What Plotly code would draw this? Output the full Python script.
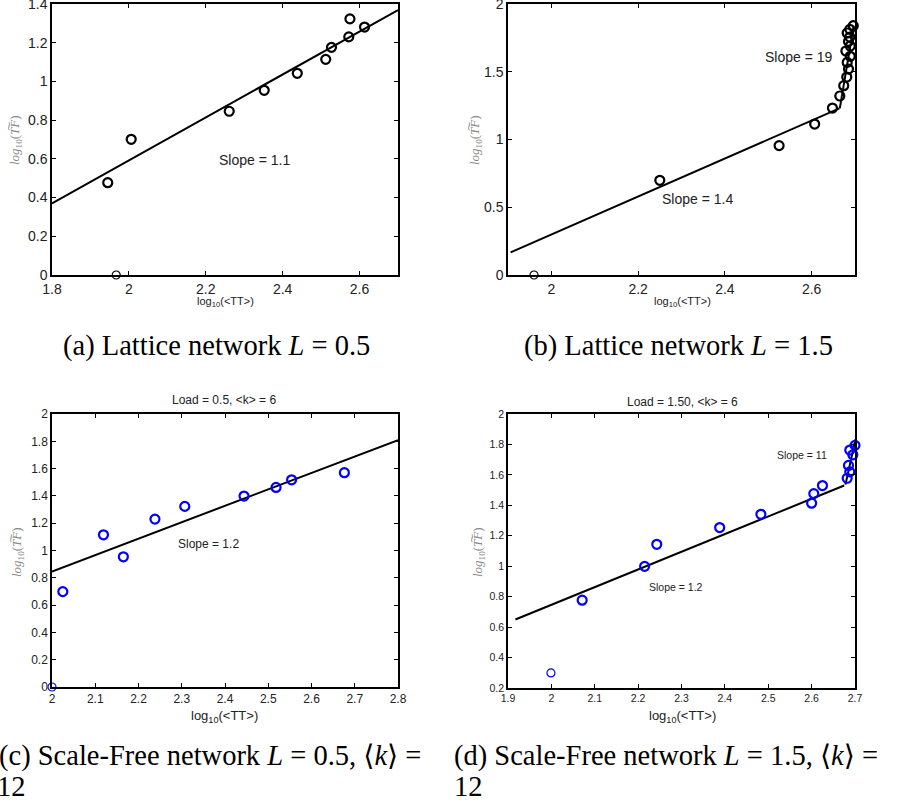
import plotly.graph_objects as go

# ---------------- data ----------------
# (a) Lattice L=0.5
a_x = [1.945, 2.006, 2.261, 2.352, 2.438, 2.512, 2.527, 2.572, 2.575, 2.613]
a_y = [0.477, 0.701, 0.846, 0.954, 1.042, 1.114, 1.176, 1.230, 1.323, 1.281]
a_out_x = [1.967]
a_out_y = [0.0]
a_fit_x = [1.8, 2.7]
a_fit_y = [0.370, 1.369]

# (b) Lattice L=1.5
b_x = [2.250, 2.525, 2.607, 2.648, 2.665, 2.674, 2.681, 2.685, 2.682, 2.689,
       2.679, 2.689, 2.685, 2.688, 2.682, 2.688, 2.696]
b_y = [0.699, 0.955, 1.114, 1.232, 1.321, 1.397, 1.461, 1.520, 1.569, 1.614,
       1.653, 1.690, 1.724, 1.756, 1.786, 1.813, 1.840]
b_out_x = [1.960]
b_out_y = [0.0]
b_fit1_x = [1.906, 2.664]
b_fit1_y = [0.167, 1.230]
b_fit2_x = [2.665, 2.697]
b_fit2_y = [1.230, 1.840]

# (c) Scale-free L=0.5
c_x = [2.025, 2.119, 2.165, 2.238, 2.307, 2.444, 2.518, 2.554, 2.676]
c_y = [0.699, 1.115, 0.954, 1.230, 1.323, 1.399, 1.462, 1.518, 1.570]
c_out_x = [2.0]
c_out_y = [0.0]
c_fit_x = [2.0, 2.8]
c_fit_y = [0.846, 1.809]

# (d) Scale-free L=1.5
d_x = [2.071, 2.215, 2.243, 2.388, 2.483, 2.600, 2.605, 2.625, 2.682, 2.688,
       2.685, 2.695, 2.688, 2.700]
d_y = [0.777, 0.999, 1.144, 1.254, 1.341, 1.414, 1.477, 1.530, 1.578, 1.620,
       1.662, 1.732, 1.763, 1.794]
d_out_x = [1.999]
d_out_y = [0.299]
d_fit1_x = [1.917, 2.675]
d_fit1_y = [0.650, 1.530]
d_fit2_x = [2.678, 2.701]
d_fit2_y = [1.536, 1.833]

# ticks
a_xt = [1.8, 2.0, 2.2, 2.4, 2.6]
a_xl = ["1.8", "2", "2.2", "2.4", "2.6"]
a_yt = [0, 0.2, 0.4, 0.6, 0.8, 1.0, 1.2, 1.4]
a_yl = ["0", "0.2", "0.4", "0.6", "0.8", "1", "1.2", "1.4"]
b_xt = [2.0, 2.2, 2.4, 2.6]
b_xl = ["2", "2.2", "2.4", "2.6"]
b_yt = [0, 0.5, 1.0, 1.5, 2.0]
b_yl = ["0", "0.5", "1", "1.5", "2"]
c_xt = [2.0, 2.1, 2.2, 2.3, 2.4, 2.5, 2.6, 2.7, 2.8]
c_xl = ["2", "2.1", "2.2", "2.3", "2.4", "2.5", "2.6", "2.7", "2.8"]
c_yt = [0, 0.2, 0.4, 0.6, 0.8, 1.0, 1.2, 1.4, 1.6, 1.8, 2.0]
c_yl = ["0", "0.2", "0.4", "0.6", "0.8", "1", "1.2", "1.4", "1.6", "1.8", "2"]
d_xt = [1.9, 2.0, 2.1, 2.2, 2.3, 2.4, 2.5, 2.6, 2.7]
d_xl = ["1.9", "2", "2.1", "2.2", "2.3", "2.4", "2.5", "2.6", "2.7"]
d_yt = [0.2, 0.4, 0.6, 0.8, 1.0, 1.2, 1.4, 1.6, 1.8, 2.0]
d_yl = ["0.2", "0.4", "0.6", "0.8", "1", "1.2", "1.4", "1.6", "1.8", "2"]

W, H = 900, 805
SANS = "Liberation Sans, Arial, sans-serif"
SERIF = "Liberation Serif, DejaVu Serif, serif"
BLUE = "#0000ff"

fig = go.Figure()

def px(x):
    return x / W

def py(y):
    return 1 - y / H

def add_panel(n, xs, ys, ox, oy, fits, color, msize):
    xa = "x" if n == 1 else f"x{n}"
    ya = "y" if n == 1 else f"y{n}"
    for fx, fy in fits:
        fig.add_trace(go.Scatter(x=fx, y=fy, mode="lines", xaxis=xa, yaxis=ya,
                                 line=dict(color="black", width=2),
                                 showlegend=False, hoverinfo="skip", cliponaxis=False))
    fig.add_trace(go.Scatter(x=xs, y=ys, mode="markers", xaxis=xa, yaxis=ya,
                             marker=dict(symbol="circle-open", size=msize, color=color,
                                         line=dict(width=2.2, color=color)),
                             showlegend=False, cliponaxis=False))
    fig.add_trace(go.Scatter(x=ox, y=oy, mode="markers", xaxis=xa, yaxis=ya,
                             marker=dict(symbol="circle-open", size=msize - 1, color=color,
                                         line=dict(width=1.2, color=color)),
                             showlegend=False, cliponaxis=False))

add_panel(1, a_x, a_y, a_out_x, a_out_y, [(a_fit_x, a_fit_y)], "black", 9)
add_panel(2, b_x, b_y, b_out_x, b_out_y, [(b_fit1_x, b_fit1_y), (b_fit2_x, b_fit2_y)], "black", 9)
add_panel(3, c_x, c_y, c_out_x, c_out_y, [(c_fit_x, c_fit_y)], BLUE, 9)
add_panel(4, d_x, d_y, d_out_x, d_out_y, [(d_fit1_x, d_fit1_y), (d_fit2_x, d_fit2_y)], BLUE, 9)

def axis(dom, rng, tv, tl, fs, anchor):
    return dict(domain=dom, range=rng, tickvals=tv, ticktext=tl, ticks="inside",
                ticklen=4, tickwidth=1, tickcolor="black", showline=True,
                linecolor="black", linewidth=1.5, mirror="ticks", showgrid=False,
                zeroline=False, anchor=anchor, automargin=False,
                ticklabeloverflow="allow",
                tickfont=dict(family=SANS, size=fs, color="#222"))

left = [px(52), px(398)]
right = [px(508), px(855)]
top = [py(275), py(4)]
bot_c = [py(687), py(414)]
bot_d = [py(688), py(414)]

fig.update_layout(
    width=W, height=H, margin=dict(l=0, r=0, t=0, b=0, autoexpand=False),
    plot_bgcolor="white", paper_bgcolor="white",
    xaxis=axis(left, [1.8, 2.7], a_xt, a_xl, 14, "y"),
    yaxis=axis(top, [0, 1.4], a_yt, a_yl, 14, "x"),
    xaxis2=axis(right, [1.9, 2.7], b_xt, b_xl, 14, "y2"),
    yaxis2=axis(top, [0, 2], b_yt, b_yl, 14, "x2"),
    xaxis3=axis(left, [2.0, 2.8], c_xt, c_xl, 12, "y3"),
    yaxis3=axis(bot_c, [0, 2], c_yt, c_yl, 12, "x3"),
    xaxis4=axis(right, [1.9, 2.7], d_xt, d_xl, 10.5, "y4"),
    yaxis4=axis(bot_d, [0.2, 2], d_yt, d_yl, 10.5, "x4"),
)

ann = []
def text(x, y, s, size, ref=("x", "y"), family=SANS, color="#222", angle=0, xanchor="center"):
    ann.append(dict(x=x, y=y, xref=ref[0], yref=ref[1], text=s, showarrow=False,
                    font=dict(family=family, size=size, color=color), textangle=angle,
                    xanchor=xanchor, yanchor="middle"))

# slope labels
text(2.326, 0.594, "Slope = 1.1", 14, ("x", "y"))
text(2.571, 1.606, "Slope = 19", 14, ("x2", "y2"))
text(2.336, 0.558, "Slope = 1.4", 14, ("x2", "y2"))
text(2.361, 1.046, "Slope = 1.2", 12, ("x3", "y3"))
text(2.578, 1.728, "Slope = 11", 10.5, ("x4", "y4"))
text(2.287, 0.865, "Slope = 1.2", 10.5, ("x4", "y4"))

# titles of bottom panels
text(px(224), py(400), "Load = 0.5, &lt;k&gt; = 6", 12, ("paper", "paper"))
text(px(682), py(402), "Load = 1.50, &lt;k&gt; = 6", 12, ("paper", "paper"))

# x-axis titles
xt = "log<sub>10</sub>(&lt;TT&gt;)"
text(px(225), py(302), xt, 11, ("paper", "paper"))
text(px(682), py(302), xt, 11, ("paper", "paper"))
text(px(224), py(716), xt, 13, ("paper", "paper"))
text(px(682), py(716), xt, 13, ("paper", "paper"))

# y-axis titles
yt = "<i>log</i><sub>10</sub>(<i>T\u0360F</i>)"
text(px(15), py(140), yt, 13, ("paper", "paper"), family=SERIF, color="#888", angle=-90)
text(px(475), py(140), yt, 13, ("paper", "paper"), family=SERIF, color="#888", angle=-90)
text(px(17), py(552), yt, 13, ("paper", "paper"), family=SERIF, color="#888", angle=-90)
text(px(478), py(552), yt, 13, ("paper", "paper"), family=SERIF, color="#888", angle=-90)

# captions
CF = 28.5
text(px(216), py(346), "(a) Lattice network <i>L</i> = 0.5", CF, ("paper", "paper"), family=SERIF, color="black")
text(px(678), py(346), "(b) Lattice network <i>L</i> = 1.5", CF, ("paper", "paper"), family=SERIF, color="black")
text(px(-3), py(756), "(c) Scale-Free network <i>L</i> = 0.5, \u27e8<i>k</i>\u27e9 =", CF, ("paper", "paper"), family=SERIF, color="black", xanchor="left")
text(px(-5), py(786), "12", CF, ("paper", "paper"), family=SERIF, color="black", xanchor="left")
text(px(452), py(756), "(d) Scale-Free network <i>L</i> = 1.5, \u27e8<i>k</i>\u27e9 =", CF, ("paper", "paper"), family=SERIF, color="black", xanchor="left")
text(px(452), py(786), "12", CF, ("paper", "paper"), family=SERIF, color="black", xanchor="left")

fig.update_layout(annotations=ann)
fig.write_html("out.html")
